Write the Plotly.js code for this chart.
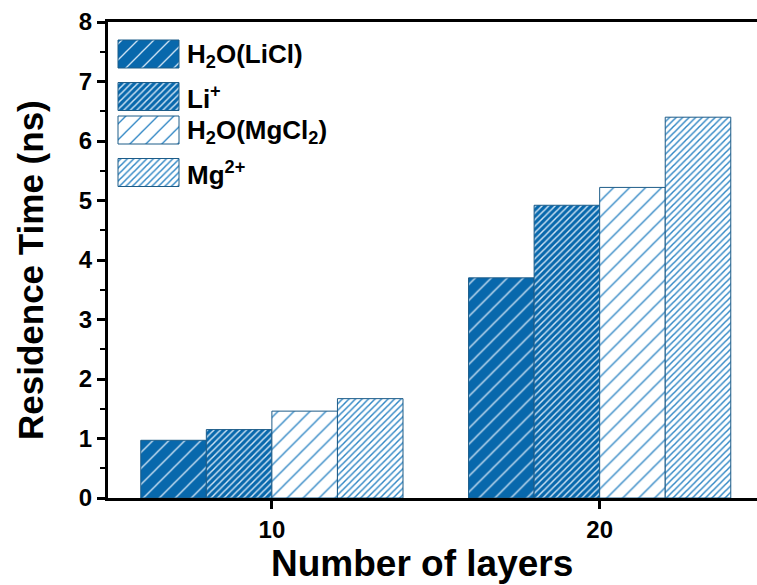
<!DOCTYPE html>
<html>
<head>
<meta charset="utf-8">
<script src="https://cdn.plot.ly/plotly-3.0.1.min.js"></script>
<style>html,body{margin:0;padding:0;background:#fff;}#chart{width:757px;height:585px;}</style>
</head>
<body>
<div id="chart"></div>
<script>
// ---- data ----
const layers = [10, 20];
const layerLabels = ['10', '20'];
const seriesNames = ['H<sub>2</sub>O(LiCl)', 'Li<sup>+</sup>', 'H<sub>2</sub>O(MgCl<sub>2</sub>)', 'Mg<sup>2+</sup>'];
const h2oLiCl = [0.97, 3.70];
const liIon = [1.15, 4.92];
const h2oMgCl2 = [1.46, 5.22];
const mgIon = [1.67, 6.40];
const yTicks = [0, 1, 2, 3, 4, 5, 6, 7, 8];
const xTitle = 'Number of layers';
const yTitle = 'Residence Time (ns)';

const values = [h2oLiCl, liIon, h2oMgCl2, mgIon];
const blue = '#0868ac';
const edge = '#1d5c88';
const styles = [
  {bg: blue, fg: '#cfe4f5', size: 11.3, sol: 0.12},
  {bg: blue, fg: '#cfe4f5', size: 4.6, sol: 0.32},
  {bg: '#ffffff', fg: '#2f86c4', size: 11.3, sol: 0.12},
  {bg: '#ffffff', fg: '#2f86c4', size: 4.6, sol: 0.32}
];

function patternMarker(s) {
  return {color: s.bg, line: {color: edge, width: 1},
    pattern: {shape: '/', fillmode: 'replace', bgcolor: s.bg, fgcolor: s.fg, size: s.size, solidity: s.sol}};
}

const traces = values.map((v, i) => ({
  type: 'bar', x: layers, y: v, name: seriesNames[i], showlegend: false,
  marker: patternMarker(styles[i]), hoverinfo: 'skip'
}));

// legend swatches drawn on a hidden overlay axis (pixel-like coordinates)
const legendY = [54, 96.5, 130, 172.5];
values.forEach((v, i) => {
  traces.push({
    type: 'bar', orientation: 'h', xaxis: 'x2', yaxis: 'y2', showlegend: false,
    y: [legendY[i]], x: [61], base: [118], width: [28],
    marker: patternMarker(styles[i]), hoverinfo: 'skip'
  });
});

const fam = 'Liberation Sans, Arial, sans-serif';
const tickLabel = t => '<span style="font-size:24px"><b>' + t + '</b></span>';
const annotations = seriesNames.map((n, i) => ({
  xref: 'x2', yref: 'y2', x: 185, y: legendY[i] + 1, text: '<b>' + n + '</b>',
  showarrow: false, xanchor: 'left', yanchor: 'middle',
  font: {family: fam, size: 26, color: '#000'}
}));
annotations.push({
  xref: 'paper', yref: 'paper', x: (422 - 108) / 649, y: (498 - 563) / 476,
  text: '<b>' + xTitle + '</b>', showarrow: false, xanchor: 'center', yanchor: 'middle',
  font: {family: fam, size: 37, color: '#000'}
});
annotations.push({
  xref: 'paper', yref: 'paper', x: (30 - 108) / 649, y: (498 - 270) / 476,
  text: '<b>' + yTitle + '</b>', showarrow: false, xanchor: 'center', yanchor: 'middle', textangle: -90,
  font: {family: fam, size: 35, color: '#000'}
});

const layout = {
  width: 757, height: 585,
  margin: {l: 108, r: 0, t: 22, b: 87},
  paper_bgcolor: '#fff', plot_bgcolor: '#fff',
  barmode: 'group', bargap: 0.2, bargroupgap: 0,
  showlegend: false,
  font: {family: fam, color: '#000', size: 24},
  xaxis: {
    range: [5, 24.8], tickvals: layers, ticktext: layerLabels.map(tickLabel),
    showgrid: false, zeroline: false, showline: true, linewidth: 3, linecolor: '#000', mirror: true,
    ticks: 'outside', ticklen: 8, tickwidth: 3, tickcolor: '#000',
    tickfont: {family: fam, size: 24, color: '#000'}
  },
  yaxis: {
    range: [0, 8], tickvals: yTicks, ticktext: yTicks.map(tickLabel),
    showgrid: false, zeroline: false, showline: true, linewidth: 3, linecolor: '#000',
    ticks: 'outside', ticklen: 8, tickwidth: 3, tickcolor: '#000',
    minor: {dtick: 0.5, ticks: 'outside', ticklen: 5, tickwidth: 2, tickcolor: '#000', showgrid: false},
    tickfont: {family: fam, size: 24, color: '#000'}
  },
  xaxis2: {anchor: 'y2', overlaying: 'x', range: [108, 757], visible: false, fixedrange: true},
  yaxis2: {anchor: 'x2', overlaying: 'y', range: [498, 22], visible: false, fixedrange: true},
  annotations: annotations
};

Plotly.newPlot('chart', traces, layout, {staticPlot: true, displayModeBar: false});
</script>
</body>
</html>
